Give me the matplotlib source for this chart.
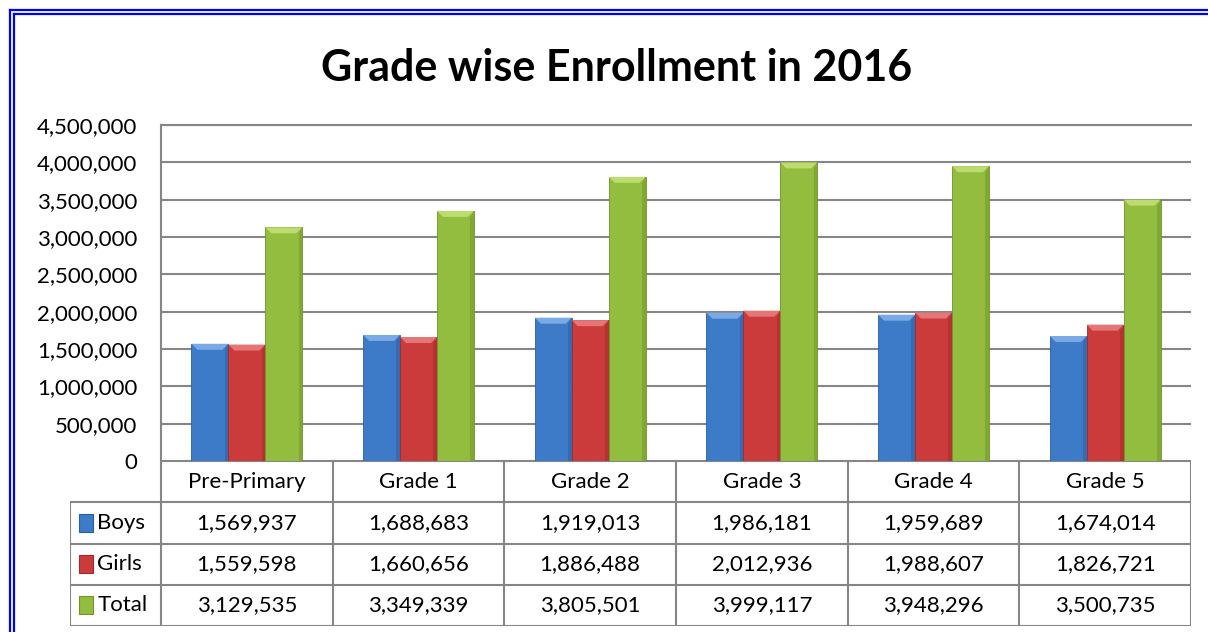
import matplotlib
matplotlib.use('Agg')
import matplotlib.pyplot as plt
from matplotlib.patches import Rectangle, Polygon

grades = ['Pre-Primary', 'Grade 1', 'Grade 2', 'Grade 3', 'Grade 4', 'Grade 5']
boys = [1569937, 1688683, 1919013, 1986181, 1959689, 1674014]
girls = [1559598, 1660656, 1886488, 2012936, 1988607, 1826721]
total = [3129535, 3349339, 3805501, 3999117, 3948296, 3500735]
series_names = ['Boys', 'Girls', 'Total']
colors = ['#3d7bc8', '#cc3b3b', '#93bd3e']
lights = ['#79aae6', '#e47676', '#bcdc70']
darks = ['#2a5f9f', '#a02a2a', '#6f9428']

W, H = 1208, 632
fig = plt.figure(figsize=(W / 100, H / 100), dpi=100)
font = 'Lato'

# double blue frame
for off in (10, 14):
    fig.add_artist(plt.Line2D([off / W, off / W], [0, 1 - off / H], color='#0000ff', lw=1.6,
                              transform=fig.transFigure))
    fig.add_artist(plt.Line2D([off / W, 1], [1 - off / H, 1 - off / H], color='#0000ff', lw=1.6,
                              transform=fig.transFigure))

fig.text(617 / W, 1 - 68 / H, 'Grade wise Enrollment in 2016', ha='center', va='center',
         fontsize=31, fontweight='bold', family=font)

# main plot area
x0, x1, ytop, ybot = 161, 1191, 125, 461
ax = fig.add_axes([x0 / W, 1 - ybot / H, (x1 - x0) / W, (ybot - ytop) / H])
xs = list(range(len(grades)))
bw = 0.215
unit = (x1 - x0) / len(grades)
px_x = 1 / unit
px_y = 4500000 / (ybot - ytop)
bev = 6
for i, vals in enumerate([boys, girls, total]):
    pos = [x + (i - 1) * bw for x in xs]
    bars = ax.bar(pos, vals, width=bw, color=colors[i], edgecolor=darks[i], linewidth=0.6, zorder=3)
    for b in bars:
        l, w, h = b.get_x(), b.get_width(), b.get_height()
        r = l + w
        bx, by = bev * px_x, bev * px_y
        ax.add_patch(Polygon([(l, h), (r, h), (r - bx, h - by), (l + bx, h - by)],
                             closed=True, facecolor=lights[i], edgecolor='none', zorder=4))
        ax.add_patch(Polygon([(r, h), (r, 0), (r - bx * 0.6, 0), (r - bx * 0.6, h - by)],
                             closed=True, facecolor=darks[i], edgecolor='none', alpha=0.5, zorder=4))
ax.set_xlim(-0.5, len(grades) - 0.5)
ax.set_ylim(0, 4500000)
ax.set_yticks(range(0, 4500001, 500000))
ax.set_yticklabels([f'{v:,}' for v in range(0, 4500001, 500000)], family=font, fontsize=16)
ax.tick_params(axis='y', length=0, pad=17)
ax.set_xticks([])
ax.yaxis.grid(True, color='#868686', lw=1.5, zorder=0)
for s in ('right', 'bottom'):
    ax.spines[s].set_visible(False)
ax.spines['left'].set_color('#868686')
ax.spines['left'].set_linewidth(1.5)
ax.spines['top'].set_color('#868686')
ax.spines['top'].set_linewidth(1.5)

# data table below
tx0, tbot = 70, 626
left_data = -0.5 - (x0 - tx0) / unit
tab = fig.add_axes([tx0 / W, 1 - tbot / H, (x1 - tx0) / W, (tbot - ybot) / H])
tab.set_xlim(left_data, len(grades) - 0.5)
tab.set_ylim(4, 0)
tab.axis('off')
lc = '#868686'
tab.plot([-0.5, len(grades) - 0.5], [0, 0], color=lc, lw=1.5)
for r in (1, 2, 3, 4):
    tab.plot([left_data, len(grades) - 0.5], [r, r], color=lc, lw=1.5)
tab.plot([left_data, left_data], [1, 4], color=lc, lw=1.5)
for k in range(len(grades) + 1):
    tab.plot([k - 0.5, k - 0.5], [0, 4], color=lc, lw=1.5)
for k, g in enumerate(grades):
    tab.text(k, 0.5, g, ha='center', va='center', fontsize=16, family=font)
for r, (name, vals) in enumerate(zip(series_names, [boys, girls, total])):
    y = r + 1.5
    tab.add_patch(Rectangle((left_data + 0.05, y - 0.22), 0.085, 0.44, facecolor=colors[r],
                            edgecolor=darks[r], lw=0.8))
    tab.text(left_data + 0.16, y, name, ha='left', va='center', fontsize=16, family=font)
    for k, v in enumerate(vals):
        tab.text(k, y, f'{v:,}', ha='center', va='center', fontsize=16, family=font)

plt.savefig('out.png', dpi=100)
plt.close()
